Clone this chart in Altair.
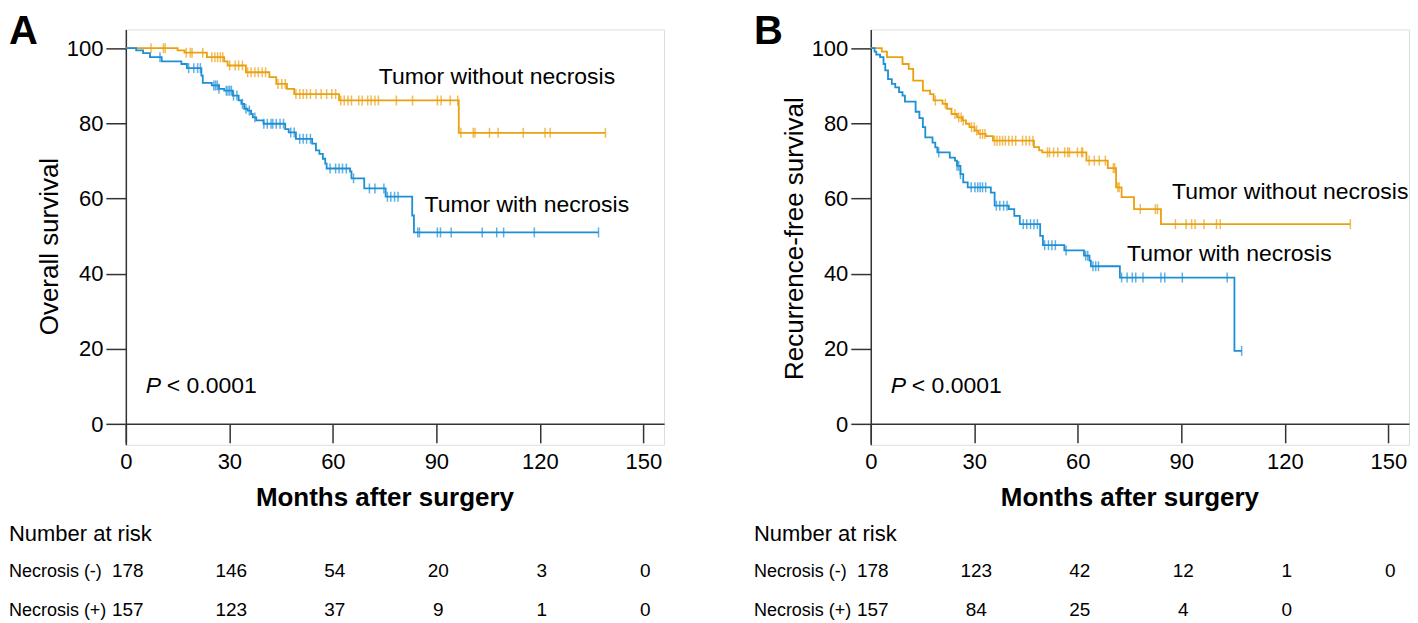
import altair as alt
import pandas as pd

ORANGE = "#EBA010"
BLUE = "#1C8FD6"
FONT = "Liberation Sans"
AXC = "#333333"

# ---------------- data ----------------
times = [0, 30, 60, 90, 120, 150]

# Panel A : overall survival
A_wo_t = [0, 15, 17, 23.5, 28.5, 29.5, 34.8, 41.6, 43.6, 46.7, 48.8, 61.8, 96.5, 139]
A_wo_s = [100, 99.4, 98.8, 97.6, 96.5, 95.4, 93.6, 92.3, 90.5, 89.2, 87.8, 86.1, 77.5, 77.5]
A_wo_c = [7.3, 10.9, 11.4, 17.5, 18.7, 19.2, 22.3, 24.9, 25.8, 26.6, 27.4, 28.1, 30.1, 31.7,
          32.7, 33.8, 35.3, 36.3, 37.4, 38.4, 39.5, 40.5, 44.1, 45.2, 46.2, 49.3, 50.4, 51.4,
          52.4, 53.5, 55.1, 56.6, 58.2, 59.7, 60.8, 62.3, 63.3, 64.4, 65.4, 67.5, 68.5, 70.1,
          71.1, 72.2, 73.2, 78.4, 83.1, 90.3, 91.4, 94.0, 96.2, 97.1, 100.7, 101.2, 105.4,
          107.9, 115.2, 121.5, 123.0, 139]
A_wi_t = [0, 3, 5, 7, 10.4, 16.1, 17.7, 21.9, 22.3, 24.9, 27, 28.5, 31, 32.7, 33.5, 34.3,
          35.3, 36.3, 36.8, 37.8, 39.9, 46.2, 47.2, 49.3, 54, 55.1, 56.1, 57.1, 57.8, 58.2,
          65, 65.4, 69.1, 75.3, 83.0, 83.5, 137]
A_wi_s = [100, 99.4, 98.7, 97.6, 96.5, 95.8, 94.7, 92.7, 90.8, 90.1, 89.2, 88.7, 87.4, 86.1,
          85.2, 83.9, 83.4, 82.5, 81.6, 80.8, 79.9, 78.5, 77.6, 75.9, 74.6, 72.8, 71.9, 70.6,
          69.3, 68.0, 67.2, 65.4, 62.7, 60.5, 55.5, 51.0, 51.0]
A_wi_c = [9.9, 18.2, 19.7, 20.8, 21.6, 25.5, 26.0, 26.5, 27.0, 29.1, 29.6, 30.1, 30.6, 31.2,
          32.2, 33.8, 34.8, 35.8, 37.4, 40.0, 41.0, 42.1, 42.6, 43.6, 44.7, 45.7, 47.8, 48.8,
          50.4, 51.4, 52.4, 53.5, 59.2, 60.8, 61.8, 62.8, 63.9, 66.0, 70.6, 72.2, 74.8, 75.8,
          76.8, 77.9, 78.9, 84.6, 85.1, 90.3, 91.2, 94.3, 103.3, 107.5, 109.5, 118.4, 137]

# Panel B : recurrence-free survival
B_wo_t = [0, 3.2, 4.7, 9.2, 11, 12.3, 15.1, 17.2, 18.2, 20.8, 22.1, 23.4, 25, 26.5, 27.6,
          28.6, 30.1, 31.2, 33.3, 35.4, 47.3, 48.8, 49.7, 62.5, 68.7, 71.1, 72.7, 76.3, 84.1, 139]
B_wo_s = [100, 99.1, 97.6, 95.8, 94.5, 91.4, 88.7, 87.8, 86.1, 85.2, 83.9, 82.5, 81.6, 80.8,
          79.9, 79.0, 78.1, 77.2, 76.6, 75.4, 73.7, 72.8, 72.3, 70.1, 68.1, 63.0, 60.4, 57.2,
          53.2, 53.2]
B_wo_c = [18.7, 21.6, 24.4, 25.5, 26.2, 26.8, 29.2, 30.0, 30.7, 31.7, 32.4, 33.1, 35.9, 36.6,
          37.4, 38.2, 39.0, 40.0, 41.0, 42.0, 44.0, 45.0, 46.0, 47.0, 51.2, 51.8, 53.0, 54.2,
          56.2, 57.1, 57.6, 59.9, 61.1, 61.4, 63.3, 64.8, 66.2, 68.0, 70.3, 70.7, 71.6, 72.0,
          78.1, 82.5, 83.1, 88.3, 91.4, 93.0, 94.0, 96.6, 100.2, 101.3, 139]
B_wi_t = [0, 1.1, 1.6, 2.7, 3.7, 4.2, 5.0, 6.1, 7.1, 8.2, 9.2, 9.9, 13, 14.1, 15.1, 15.8,
          17.9, 18.7, 19.3, 22.9, 24.4, 25, 26, 26.8, 28.1, 34.8, 35.9, 40, 41.6, 43.2, 49.1,
          49.9, 56.1, 61.8, 63.4, 63.8, 72.2, 105.4, 107.5]
B_wi_s = [100, 99.1, 98.3, 97.6, 95.8, 94.1, 91.8, 90.5, 89.6, 88.3, 87.4, 85.8, 83.1, 81.4,
          79.0, 76.3, 74.9, 73.6, 72.3, 70.9, 70.1, 68.7, 66.5, 64.3, 63.0, 61.6, 58.1, 57.2,
          55.4, 53.2, 50.1, 47.6, 46.2, 44.8, 43.5, 42.0, 39.0, 19.5, 19.5]
B_wi_c = [19.7, 25.0, 25.5, 26.0, 29.1, 30.2, 31.0, 31.7, 32.4, 33.3, 36.4, 37.4, 38.5, 39.5,
          44.2, 45.2, 46.3, 47.3, 48.3, 50.4, 51.5, 52.5, 53.5, 56.6, 62.3, 62.9, 64.4, 65.2,
          66.0, 72.7, 74.3, 75.8, 76.8, 78.9, 84.1, 85.2, 90.3, 103.3, 107.5]

A_risk_neg = ["178", "146", "54", "20", "3", "0"]
A_risk_pos = ["157", "123", "37", "9", "1", "0"]
B_risk_neg = ["178", "123", "42", "12", "1", "0"]
B_risk_pos = ["157", "84", "25", "4", "0"]

# ---------------- layout constants ----------------
W, H = 539, 416
XMAX = 156
YDOM = [-5.5, 105]


def level(ts, ss, t):
    v = ss[0]
    for a, b in zip(ts, ss):
        if a <= t:
            v = b
    return v


def panel(letter, ytitle, ytitle_cy, wo_t, wo_s, wo_c, wi_t, wi_s, wi_c,
          lab_wo, lab_wi, risk_neg, risk_pos):
    curve = pd.DataFrame({
        "t": wo_t + wi_t,
        "s": wo_s + wi_s,
        "g": ["without"] * len(wo_t) + ["with"] * len(wi_t),
    })
    cens = pd.DataFrame({
        "t": wo_c + wi_c,
        "s": [level(wo_t, wo_s, t) for t in wo_c] + [level(wi_t, wi_s, t) for t in wi_c],
        "g": ["without"] * len(wo_c) + ["with"] * len(wi_c),
    })
    xs = alt.Scale(domain=[0, XMAX], nice=False, zero=False)
    ys = alt.Scale(domain=YDOM, nice=False, zero=False)
    x = alt.X("t:Q", scale=xs, axis=alt.Axis(
        values=times, tickSize=19, offset=-21, labelPadding=9, grid=False,
        labelFontSize=22, labelFont=FONT, labelColor="black", labelFlush=False,
        domainColor=AXC, tickColor=AXC, domainWidth=1.5, tickWidth=1.5,
        title="Months after surgery", titleFont=FONT, titleFontSize=26,
        titleFontWeight="bold", titleColor="black", titleX=259, titleY=82,
        titleAlign="center", titleBaseline="alphabetic"))
    y = alt.Y("s:Q", scale=ys, axis=alt.Axis(
        values=[0, 20, 40, 60, 80, 100], tickSize=20, labelPadding=3, grid=False,
        labelFontSize=22, labelFont=FONT, labelColor="black", labelFlush=False,
        domainColor=AXC, tickColor=AXC, domainWidth=1.5, tickWidth=1.5,
        title=ytitle, titleFont=FONT, titleFontSize=26, titleFontWeight="normal",
        titleColor="black", titleAngle=270, titleX=-68, titleY=ytitle_cy - 27,
        titleAlign="center", titleBaseline="alphabetic"))
    color = alt.Color("g:N", scale=alt.Scale(domain=["without", "with"], range=[ORANGE, BLUE]),
                      legend=None)

    lines = alt.Chart(curve).mark_line(interpolate="step-after", strokeWidth=1.8).encode(
        x=x, y=y, color=color, order="t:Q")
    ticks = alt.Chart(cens).mark_tick(orient="vertical", size=10, thickness=1.5).encode(
        x=alt.X("t:Q", scale=xs), y=alt.Y("s:Q", scale=ys), color=color)

    ann = pd.DataFrame({"t": [lab_wo[0], lab_wi[0]], "s": [lab_wo[1], lab_wi[1]],
                        "label": ["Tumor without necrosis", "Tumor with necrosis"]})
    labels = alt.Chart(ann).mark_text(align="left", baseline="alphabetic", font=FONT,
                                      fontSize=23, color="black").encode(
        x=alt.X("t:Q", scale=xs), y=alt.Y("s:Q", scale=ys), text="label:N")

    pdf = pd.DataFrame({"t": [5.8], "s": [8.4], "p": ["P"], "rest": ["< 0.0001"]})
    p1 = alt.Chart(pdf).mark_text(align="left", baseline="alphabetic", font=FONT, fontSize=23,
                                  fontStyle="italic", color="black").encode(
        x=alt.X("t:Q", scale=xs), y=alt.Y("s:Q", scale=ys), text="p:N")
    p2 = alt.Chart(pdf).mark_text(align="left", baseline="alphabetic", font=FONT, fontSize=23,
                                  dx=21, color="black").encode(
        x=alt.X("t:Q", scale=xs), y=alt.Y("s:Q", scale=ys), text="rest:N")

    # invisible spacer so the panel letter's full glyph box stays inside the drawing
    spacer = alt.Chart(pd.DataFrame({"k": [0]})).mark_rule(opacity=0, strokeWidth=1).encode(
        x=alt.value(-117), x2=alt.value(-100), y=alt.value(-20))
    let = alt.Chart(pd.DataFrame({"l": [letter]})).mark_text(
        align="left", baseline="alphabetic", font=FONT, fontSize=40, fontWeight="bold",
        color="black").encode(x=alt.value(-117), y=alt.value(15), text="l:N")

    head = alt.Chart(pd.DataFrame({"l": ["Number at risk"]})).mark_text(
        align="left", baseline="alphabetic", font=FONT, fontSize=22, color="black").encode(
        x=alt.value(-117), y=alt.value(512), text="l:N")
    rowlab = alt.Chart(pd.DataFrame({"l": ["Necrosis (-)", "Necrosis (+)"], "py": [548, 587]})).mark_text(
        align="left", baseline="alphabetic", font=FONT, fontSize=18, color="black").encode(
        x=alt.value(-117), y=alt.Y("py:Q", scale=None), text="l:N")
    r1 = alt.Chart(pd.DataFrame({"t": times[:len(risk_neg)], "n": risk_neg})).mark_text(
        align="center", baseline="alphabetic", font=FONT, fontSize=19, dx=2, color="black").encode(
        x=alt.X("t:Q", scale=xs), y=alt.value(548), text="n:N")
    r2 = alt.Chart(pd.DataFrame({"t": times[:len(risk_pos)], "n": risk_pos})).mark_text(
        align="center", baseline="alphabetic", font=FONT, fontSize=19, dx=2, color="black").encode(
        x=alt.X("t:Q", scale=xs), y=alt.value(587), text="n:N")

    return alt.layer(lines, ticks, labels, p1, p2, spacer, let, head, rowlab, r1, r2).properties(
        width=W, height=H)


pa = panel("A", "Overall survival", 244, A_wo_t, A_wo_s, A_wo_c, A_wi_t, A_wi_s, A_wi_c,
           (73.3, 90.4), (86.6, 56.3), A_risk_neg, A_risk_pos)
pb = panel("B", "Recurrence-free survival", 236, B_wo_t, B_wo_s, B_wo_c, B_wi_t, B_wi_s, B_wi_c,
           (87.3, 59.8), (74.3, 43.5), B_risk_neg, B_risk_pos)

chart = alt.hconcat(pa, pb, spacing=88).properties(
    padding={"left": 0, "top": 0, "right": 0, "bottom": 0}
).configure_view(strokeWidth=0).configure(background="white")

chart.save("out.html", embed_options={"renderer": "svg", "actions": False})
